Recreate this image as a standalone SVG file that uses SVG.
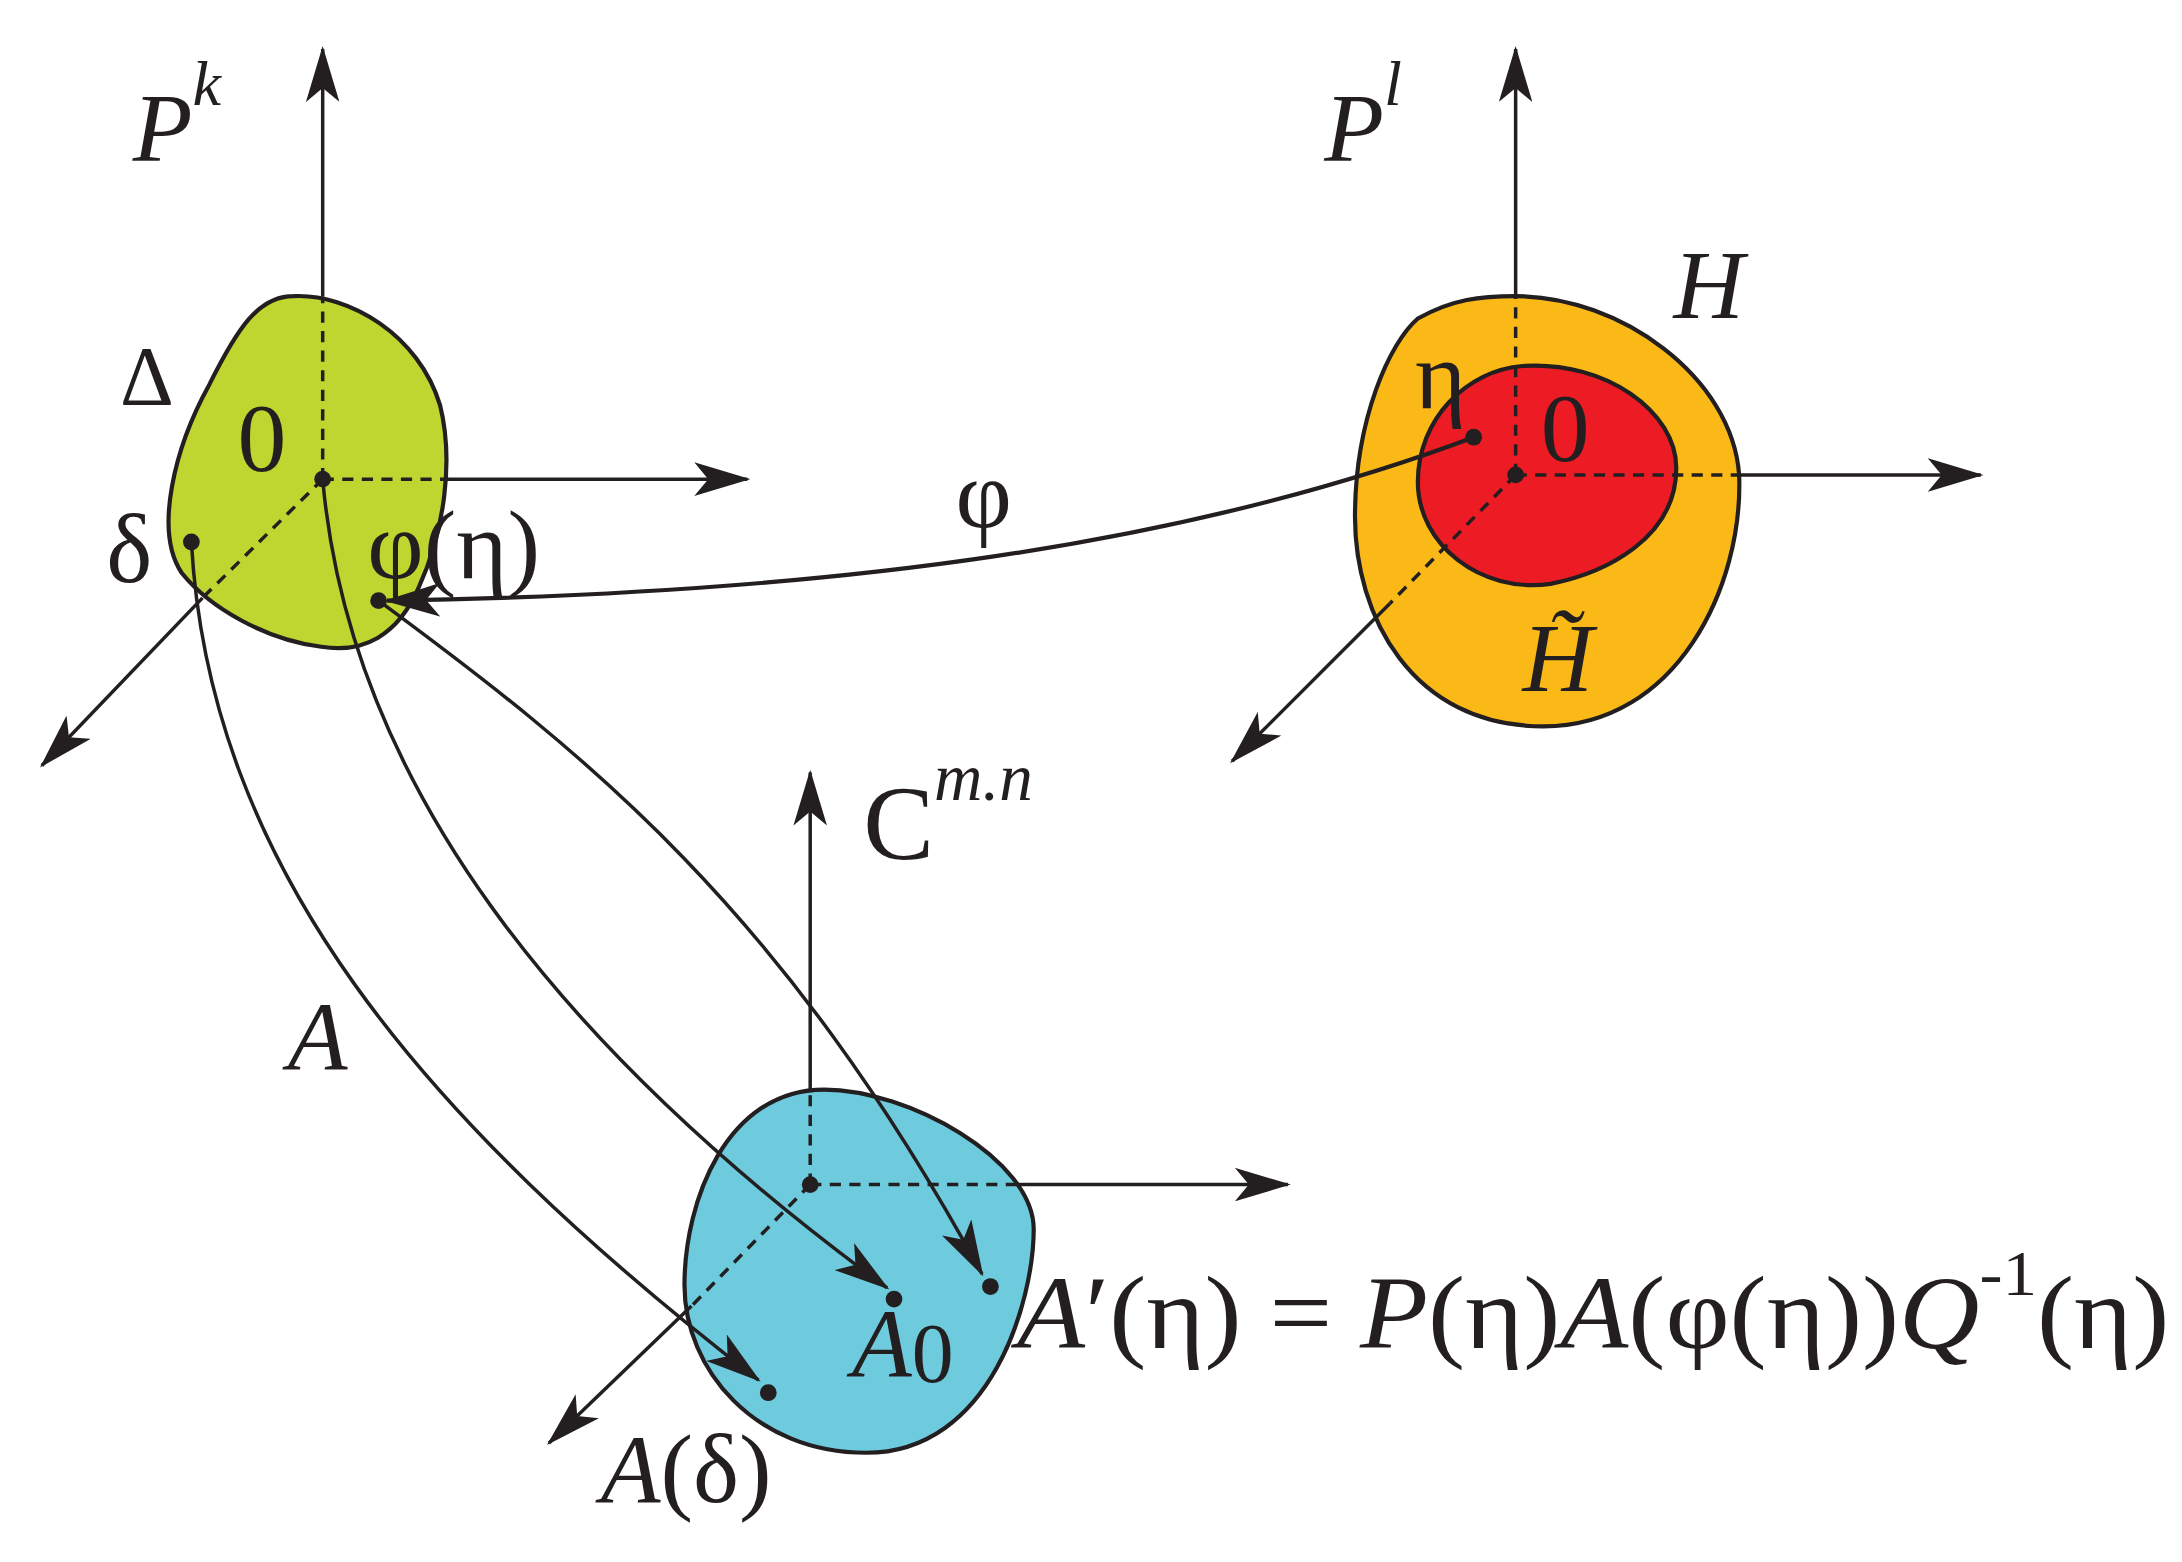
<svg xmlns="http://www.w3.org/2000/svg" width="2182" height="1562" viewBox="0 0 2182 1562">
<defs>
<marker id="ar2" viewBox="0 0 40 24" refX="38" refY="12" markerWidth="40" markerHeight="24" markerUnits="userSpaceOnUse" orient="auto"><path d="M0,0 L40,12 L0,24 L10,12 Z" fill="#231f20"/></marker>
<style>
.ax{stroke:#231f20;stroke-width:2.5;fill:none;marker-end:url(#ar2)}
.ds{stroke:#231f20;stroke-width:2.5;fill:none;stroke-dasharray:8,6}
.bl{stroke:#231f20;stroke-width:3}
.cn{stroke:#231f20;stroke-width:2.5;fill:none;marker-end:url(#ar2)}
text{font-family:"Liberation Serif","DejaVu Serif",serif;fill:#231f20}
.i{font-style:italic}
</style>
</defs>
<rect width="2182" height="1562" fill="#fff"/>
<g transform="scale(1.3969)">
<g id="green">
<path class="bl" fill="#bed62f" d="M210,212 C250,210 300,240 315,290 C325,330 318,380 300,420 C285,455 260,468 230,463 C190,458 150,435 130,410 C110,380 125,320 150,275 C170,235 185,212 210,212 Z"/>
<path class="ds" d="M231,343 V212 M231,343 H320 M231,343 L145,428"/>
<path class="ax" d="M231,212 V35"/><path class="ax" d="M320,343 H535"/><path class="ax" d="M145,428 L30,548"/>
</g>
<g id="orange">
<path class="bl" fill="#fbb917" d="M1085,212 C1160,212 1240,270 1245,340 C1248,420 1200,520 1105,520 C1010,520 970,440 970,370 C970,300 995,245 1015,228 C1040,214 1060,212 1085,212 Z"/>
<path class="bl" fill="#ed1c24" d="M1090,262 C1150,258 1200,295 1200,335 C1200,385 1150,410 1110,418 C1060,425 1015,390 1015,345 C1015,300 1050,265 1090,262 Z"/>
<path class="ds" d="M1085,340 V212 M1085,340 H1245 M1085,340 L995,432"/>
<path class="ax" d="M1085,212 V35"/><path class="ax" d="M1245,340 H1418"/><path class="ax" d="M995,432 L882,545"/>
</g>
<g id="blue">
<path class="bl" fill="#6dcbdd" d="M590,780 C650,780 740,830 740,880 C740,930 710,1040 620,1040 C540,1040 490,980 490,920 C490,860 520,780 590,780 Z"/>
<path class="ds" d="M580,848 V780 M580,848 H728 M580,848 L495,935"/>
<path class="ax" d="M580,780 V553"/><path class="ax" d="M728,848 H922"/><path class="ax" d="M495,935 L393,1033"/>
</g>
<g id="connectors">
<path class="cn" style="stroke-width:3" d="M1055,313 C850,390 600,425 277,430"/>
<path class="cn" d="M137,388 C150,620 300,800 543,988"/>
<path class="cn" d="M231,343 C250,560 400,750 635,922"/>
<path class="cn" d="M271,430 C420,540 560,650 703,912"/>
</g>
<g id="dots" fill="#231f20">
<circle cx="231" cy="343" r="6"/><circle cx="137" cy="388" r="6"/><circle cx="271" cy="430" r="6"/>
<circle cx="1055" cy="313" r="6"/><circle cx="1085" cy="340" r="6"/>
<circle cx="580" cy="848" r="6"/><circle cx="640" cy="930" r="6"/><circle cx="709" cy="921" r="6"/><circle cx="550" cy="997" r="6"/>
</g>
<g id="labels">
<text class="i" x="95" y="115" font-size="70">P<tspan font-size="46" dy="-40">k</tspan></text>
<text class="i" x="948" y="115" font-size="70">P<tspan font-size="46" dy="-40">l</tspan></text>
<text x="86" y="290" font-size="60">Δ</text>
<text x="170" y="337" font-size="70">0</text>
<text x="76" y="417" font-size="70">δ</text>
<text x="263" y="414" font-size="70">φ(η)</text>
<text x="684" y="377" font-size="70">φ</text>
<text x="1013" y="292" font-size="70">η</text>
<text x="1103" y="330" font-size="70">0</text>
<text class="i" x="1198" y="228" font-size="70">H</text>
<text class="i" x="1090" y="495" font-size="70">H&#771;</text>
<text x="618" y="615" font-size="76">C<tspan class="i" font-size="48" dy="-42">m.n</tspan></text>
<text class="i" x="206" y="765" font-size="70">A</text>
<text class="i" x="610" y="985" font-size="70">A<tspan font-style="normal" font-size="60" dy="4">0</tspan></text>
<text x="430" y="1075" font-size="70"><tspan class="i">A</tspan>(δ)</text>
<text x="728" y="965" font-size="74" textLength="825" lengthAdjust="spacingAndGlyphs"><tspan class="i">A</tspan>′(η) = <tspan class="i">P</tspan>(η)<tspan class="i">A</tspan>(φ(η))<tspan class="i">Q</tspan><tspan font-size="46" dy="-38">-1</tspan><tspan dy="38">(η)</tspan></text>
</g>
</g>
</svg>
